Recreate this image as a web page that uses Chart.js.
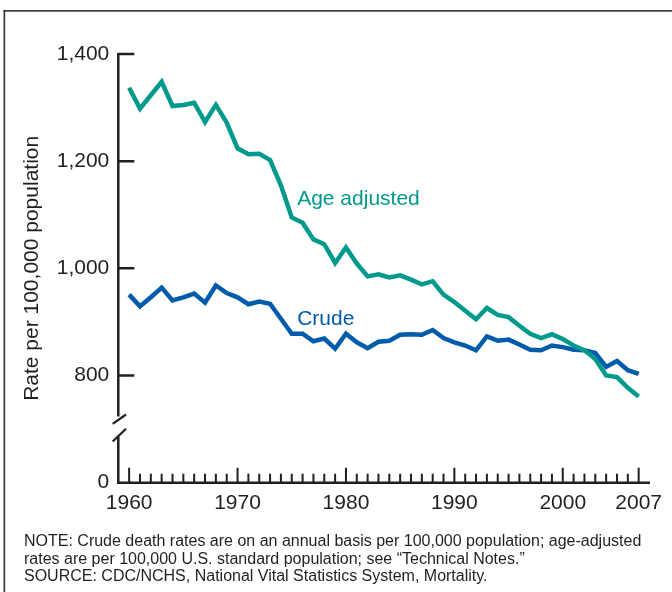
<!DOCTYPE html>
<html>
<head>
<meta charset="utf-8">
<script src="https://cdn.jsdelivr.net/npm/chart.js@4"></script>
<style>
  html, body { margin: 0; padding: 0; background: #ffffff; }
  #wrap { position: relative; width: 672px; height: 592px; }
</style>
</head>
<body>
<div id="wrap"><canvas id="c" width="672" height="592"></canvas></div>
<script>
// ---- Data ----
const years = [1960,1961,1962,1963,1964,1965,1966,1967,1968,1969,
               1970,1971,1972,1973,1974,1975,1976,1977,1978,1979,
               1980,1981,1982,1983,1984,1985,1986,1987,1988,1989,
               1990,1991,1992,1993,1994,1995,1996,1997,1998,1999,
               2000,2001,2002,2003,2004,2005,2006,2007];

const ageAdjusted = [1337,1298,1323,1348,1303,1305,1309,1273,1305,1272,
                     1224,1213,1214,1202,1155,1095,1085,1054,1045,1010,
                     1039,1009,985,989,983,987,979,970,976,951,
                     937,921,905,926,913,909,893,878,870,877,
                     868,856,847,831,800,797,777,761];

const crude = [951,929,946,964,940,946,953,936,968,954,
               946,933,938,934,906,878,878,864,869,850,
               878,862,851,863,865,876,877,876,885,870,
               862,856,847,873,865,867,858,848,847,856,
               853,848,847,842,816,827,810,803];

const xTickValues = [1960,1970,1980,1990,2000,2007];
const majorTickYears = [1960,1970,1980,1990,2000,2007];
// The value axis is broken: the tick drawn at 600 stands for 0.
const yTickValues = [600,800,1000,1200,1400];
const yTickLabels = ['0','800','1,000','1,200','1,400'];

const seriesNames = ['Age adjusted','Crude'];
const seriesLabelAt = [[1975.5, 1119],[1975.5, 895]];   // [year, rate] anchor for inline labels

const noteLines = [
  'NOTE: Crude death rates are on an annual basis per 100,000 population; age-adjusted',
  'rates are per 100,000 U.S. standard population; see \u201CTechnical Notes.\u201D',
  'SOURCE: CDC/NCHS, National Vital Statistics System, Mortality.'
];

// ---- Styles ----
const TEAL = '#009a8c';
const BLUE = '#005bab';
const INK = '#231f20';
const FONT = '"Liberation Sans", Arial, Helvetica, sans-serif';

const toXY = arr => arr.map((v, i) => ({x: years[i], y: v}));

const decorPlugin = {
  id: 'decor',
  afterDraw(chart) {
    const ctx = chart.ctx;
    const xs = chart.scales.x, ys = chart.scales.y;
    const area = chart.chartArea;
    ctx.save();

    // outer frame (top and left edges visible)
    ctx.fillStyle = '#3a3a3a';
    ctx.fillRect(3.5, 10, 672, 1.7);
    ctx.fillRect(3.5, 10, 1.7, 600);

    ctx.strokeStyle = INK;
    ctx.lineCap = 'butt';
    const axisX = area.left;
    const axisY = area.bottom;

    // y axis with break
    const y800 = ys.getPixelForValue(800);
    ctx.lineWidth = 2.5;
    ctx.beginPath();
    ctx.moveTo(axisX, area.top - 1);
    ctx.lineTo(axisX, y800 + 41);
    ctx.moveTo(axisX, y800 + 61);
    ctx.lineTo(axisX, axisY + 1.2);
    ctx.stroke();
    // break slashes
    ctx.lineWidth = 2.2;
    ctx.beginPath();
    ctx.moveTo(axisX - 5.6, y800 + 48.3);
    ctx.lineTo(axisX + 7.7, y800 + 39);
    ctx.moveTo(axisX - 5.6, y800 + 66);
    ctx.lineTo(axisX + 7.7, y800 + 53.3);
    ctx.stroke();

    // y ticks (pointing into the plot)
    ctx.lineWidth = 2.5;
    ctx.beginPath();
    yTickValues.forEach(v => {
      if (v <= ys.min) return;
      const py = ys.getPixelForValue(v);
      ctx.moveTo(axisX, py);
      ctx.lineTo(axisX + 16, py);
    });
    ctx.stroke();

    // x axis
    ctx.lineWidth = 2.5;
    ctx.beginPath();
    ctx.moveTo(axisX - 1.2, axisY);
    ctx.lineTo(area.right + 0.5, axisY);
    ctx.stroke();

    // x ticks every year, taller at major years
    ctx.lineWidth = 2;
    ctx.beginPath();
    years.forEach(yr => {
      const px = xs.getPixelForValue(yr);
      const h = majorTickYears.includes(yr) ? 15 : 9;
      ctx.moveTo(px, axisY);
      ctx.lineTo(px, axisY - h);
    });
    ctx.stroke();

    // inline series labels
    ctx.font = '21px ' + FONT;
    ctx.textAlign = 'left';
    ctx.textBaseline = 'alphabetic';
    [TEAL, BLUE].forEach((col, i) => {
      ctx.fillStyle = col;
      ctx.fillText(seriesNames[i],
        xs.getPixelForValue(seriesLabelAt[i][0]),
        ys.getPixelForValue(seriesLabelAt[i][1]));
    });

    // notes
    ctx.fillStyle = INK;
    ctx.font = '16px ' + FONT;
    noteLines.forEach((t, i) => ctx.fillText(t, 24, 546 + i * 17.5));

    ctx.restore();
  }
};

new Chart(document.getElementById('c'), {
  type: 'line',
  data: {
    datasets: [
      { label: seriesNames[0], data: toXY(ageAdjusted), borderColor: TEAL, borderWidth: 4.5,
        pointRadius: 0, tension: 0, fill: false, borderJoinStyle: 'miter' },
      { label: seriesNames[1], data: toXY(crude), borderColor: BLUE, borderWidth: 4.5,
        pointRadius: 0, tension: 0, fill: false, borderJoinStyle: 'miter' }
    ]
  },
  options: {
    responsive: false,
    animation: false,
    devicePixelRatio: 1,
    layout: { padding: { top: 54, left: 0, right: 22.5, bottom: 0 } },
    plugins: { legend: { display: false }, tooltip: { enabled: false }, title: { display: false } },
    scales: {
      x: {
        type: 'linear', min: 1959, max: 2008,
        grid: { display: false, drawTicks: false },
        border: { display: false },
        afterBuildTicks: s => { s.ticks = xTickValues.map(v => ({ value: v })); },
        afterFit: s => { s.height = 109.3; },
        ticks: { autoSkip: false, maxRotation: 0, padding: 8, color: INK,
                 font: { family: FONT, size: 21 }, callback: v => String(v) }
      },
      y: {
        type: 'linear', min: 600, max: 1400,
        grid: { display: false, drawTicks: false },
        border: { display: false },
        afterBuildTicks: s => { s.ticks = yTickValues.map(v => ({ value: v })); },
        afterFit: s => { s.width = 118.3; },
        ticks: { padding: 9, color: INK, font: { family: FONT, size: 21 },
                 callback: (v, i) => yTickLabels[i] },
        title: { display: true, text: 'Rate per 100,000 population', color: INK,
                 font: { family: FONT, size: 21 }, padding: { top: 20, bottom: 0 } }
      }
    }
  },
  plugins: [decorPlugin]
});
</script>
</body>
</html>
